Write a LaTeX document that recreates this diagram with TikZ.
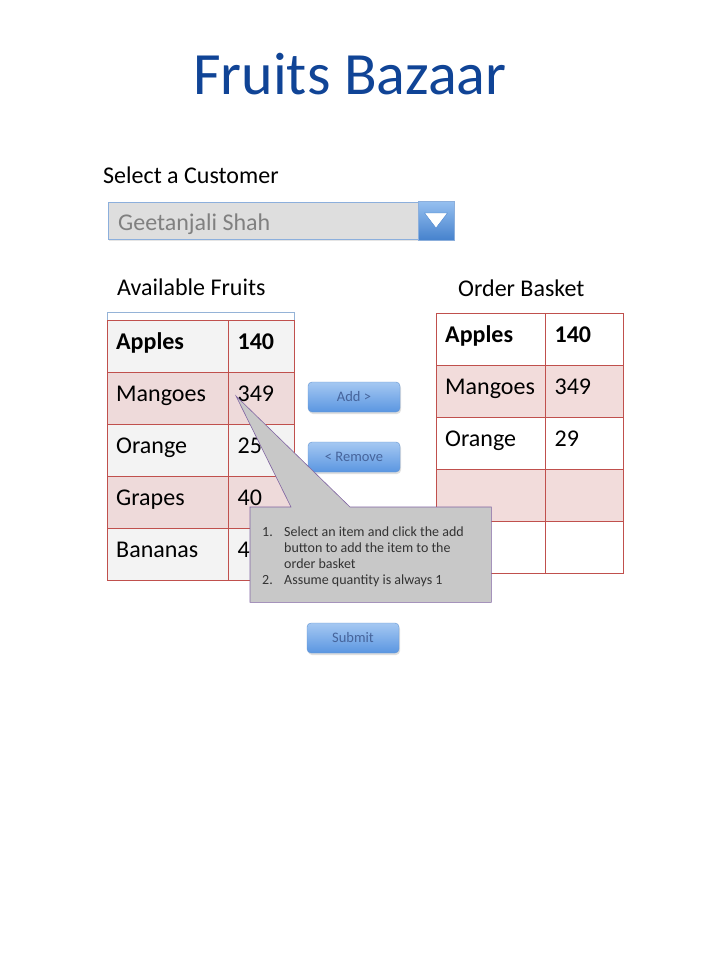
\documentclass[tikz,border=0pt]{standalone}
\usepackage{fontspec}
\setmainfont{Carlito}
\usetikzlibrary{shadows}

\definecolor{titleblue}{RGB}{16,68,150}
\definecolor{cellred}{RGB}{192,80,77}
\definecolor{leftwhite}{RGB}{243,243,243}
\definecolor{leftpink}{RGB}{238,218,218}
\definecolor{rightpink}{RGB}{242,220,219}
\definecolor{frameblue}{RGB}{149,179,215}
\definecolor{dropfill}{RGB}{222,222,222}
\definecolor{dropedge}{RGB}{140,175,220}
\definecolor{droptop}{RGB}{150,192,240}
\definecolor{dropbot}{RGB}{70,130,205}
\definecolor{btntop}{RGB}{165,200,242}
\definecolor{btnbot}{RGB}{90,150,225}
\definecolor{btnedge}{RGB}{100,150,210}
\definecolor{btntext}{RGB}{70,100,155}
\definecolor{greytext}{RGB}{128,128,128}
\definecolor{callfill}{RGB}{200,200,200}
\definecolor{calledge}{RGB}{128,100,162}

\begin{document}
\begin{tikzpicture}[x=1pt,y=-1pt,
    cell/.style={draw=cellred, anchor=north west, minimum height=52pt,
      inner xsep=9pt, align=left, text height=16pt, text depth=10pt,
      font=\fontsize{24}{28}\selectfont},
    btn/.style={draw=btnedge, rounded corners=4pt, top color=btntop,
      bottom color=btnbot, minimum width=92pt, minimum height=30pt,
      text=btntext, font=\fontsize{14.5}{17}\selectfont,
      drop shadow={opacity=0.25,shadow xshift=1pt,shadow yshift=-2pt}},
    heading/.style={anchor=base west, inner sep=0pt, font=\fontsize{24}{28}\selectfont}]
      \def\rowh{52}
      \useasboundingbox[fill=white] (0,0) rectangle (720,960);

      % title and customer box
      \node[anchor=base west, inner sep=0pt, text=titleblue,
        font=\fontsize{60}{66}\selectfont] (title) at (193,95) {Fruits Bazaar};
      \node[heading] (selcust) at (103,183) {Select a Customer};
      \node[draw=dropedge, fill=dropfill, anchor=north west, minimum width=337pt,
        minimum height=37pt, drop shadow={opacity=0.2,shadow xshift=1pt,shadow yshift=-1.5pt}]
        (drop) at (108,202) {};
      \node[anchor=base west, inner sep=0pt, text=greytext,
        font=\fontsize{24}{28}\selectfont] (cust) at (118,230) {Geetanjali Shah};
      \node[draw=dropedge, top color=droptop, bottom color=dropbot,
        minimum width=36pt, minimum height=39pt] (dropbtn) at (436,220.5) {};
      \filldraw[fill=white, draw=dropbot, line width=0.4pt]
        ([xshift=-11.5pt,yshift=7.5pt]dropbtn.center) --
        ([xshift=11.5pt,yshift=7.5pt]dropbtn.center) --
        ([yshift=-7.5pt]dropbtn.center) -- cycle;

      % available fruits
      \node[heading] (availhead) at (117,295) {Available Fruits};
      \node[draw=frameblue, fill=white, anchor=north west, minimum width=187pt,
        minimum height=268pt, inner sep=0pt] (availframe) at (107,312) {};
      \foreach \fruit/\qty/\shade [count=\i from 0] in
        {{\textbf{Apples}}/{\textbf{140}}/leftwhite, Mangoes/349/leftpink,
         Orange/25/leftwhite, Grapes/40/leftpink, Bananas/4/leftwhite}{
        \node[cell, fill=\shade, text width=103pt] (avail\i) at (107,{320+\rowh*\i}) {\fruit};
        \node[cell, fill=\shade, text width=48pt] (availqty\i) at (avail\i.north east) {\qty};
      }

      % order basket
      \node[heading] (baskethead) at (458,296) {Order Basket};
      \foreach \fruit/\qty/\shade [count=\i from 0] in
        {{\textbf{Apples}}/{\textbf{140}}/white, Mangoes/349/rightpink,
         Orange/29/white, {}/{}/rightpink, {}/{}/white}{
        \node[cell, fill=\shade, text width=91pt] (basket\i) at (436,{313+\rowh*\i}) {\fruit};
        \node[cell, fill=\shade, text width=60pt] (basketqty\i) at (basket\i.north east) {\qty};
      }

      % buttons
      \node[btn] (add) at (354,397) {Add >};
      \node[btn] (remove) at (354,457) {< Remove};
      \node[btn] (submit) at (353,638) {Submit};

      % callout
      \coordinate (tip) at (236,396);
      \node[inner sep=0pt, minimum width=241pt, minimum height=95pt,
        anchor=north west] (note) at (250,507) {};
      \filldraw[fill=callfill, draw=calledge, line width=0.6pt]
        (note.north west) -- ([xshift=41pt]note.north west) -- (tip) --
        ([xshift=100pt]note.north west) -- (note.north east) --
        (note.south east) -- (note.south west) -- cycle;
      \node[anchor=base west, inner sep=0pt, text=black!80,
        font=\fontsize{14}{16}\selectfont] (notetext) at (262,536)
        {\begin{tabular}[t]{@{}p{22pt}@{}l@{}}
          1. & Select an item and click the add\\
             & button to add the item to the\\
             & order basket\\
          2. & Assume quantity is always 1
        \end{tabular}};
\end{tikzpicture}
\end{document}
